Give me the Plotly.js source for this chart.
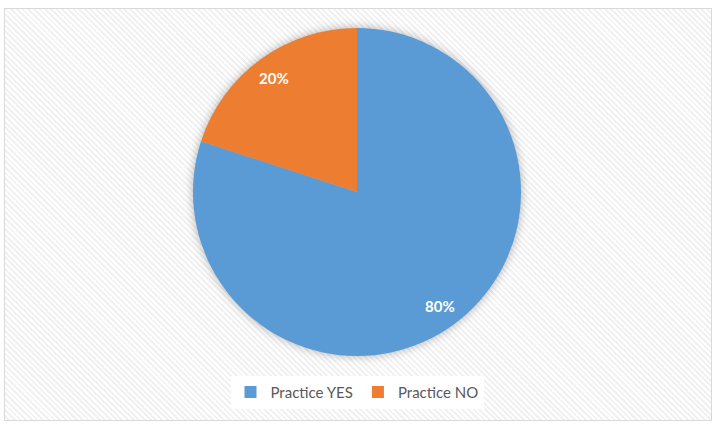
<!DOCTYPE html>
<html>
<head>
<meta charset="utf-8">
<script src="https://cdn.plot.ly/plotly-3.0.1.min.js"></script>
<style>
html,body{margin:0;padding:0;background:#fff;width:723px;height:427px;overflow:hidden;}
#frame{position:absolute;left:4px;top:8px;width:706px;height:411px;border:1px solid #d9d9d9;
background:repeating-linear-gradient(45deg,#ffffff 0px,#ffffff 2px,#f1f1f1 2px,#f1f1f1 4px);}
#chart{position:absolute;left:0;top:0;width:723px;height:427px;}
.pielayer .trace{filter:drop-shadow(0 0 5px rgba(0,0,0,0.3));}
</style>
</head>
<body>
<div id="frame"></div>
<div id="chart"></div>
<script>
var categories = ["Practice YES", "Practice NO"];
var values = [80, 20];
var colors = ["#5B9BD5", "#ED7D31"];

var W = 723, H = 427;
var margin = {l: 0, r: 9, t: 28, b: 71};
var plotW = W - margin.l - margin.r, plotH = H - margin.t - margin.b;
var radiusPx = Math.min(plotW, plotH) / 2;
var labelFrac = 0.86;

var total = values.reduce(function (a, b) { return a + b; }, 0);
var annotations = [];
var cum = 0;
for (var i = 0; i < values.length; i++) {
  var mid = (cum + values[i] / 2) / total * 2 * Math.PI; // clockwise from 12 o'clock
  cum += values[i];
  var dx = Math.sin(mid) * radiusPx * labelFrac;
  var dy = Math.cos(mid) * radiusPx * labelFrac;
  annotations.push({
    xref: "paper", yref: "paper",
    x: 0.5 + dx / plotW, y: 0.5 + dy / plotH,
    xanchor: "center", yanchor: "middle",
    showarrow: false,
    text: Math.round(values[i] / total * 100) + "%",
    font: {family: "Lato, 'Open Sans', sans-serif", size: 15, color: "#ffffff", weight: "bold"}
  });
}

var trace = {
  type: "pie",
  labels: categories,
  values: values,
  sort: false,
  direction: "clockwise",
  rotation: 0,
  marker: {colors: colors, line: {width: 0}},
  textinfo: "none",
  hoverinfo: "none"
};

var layout = {
  width: W,
  height: H,
  margin: {l: margin.l, r: margin.r, t: margin.t, b: margin.b, pad: 0},
  paper_bgcolor: "rgba(0,0,0,0)",
  plot_bgcolor: "rgba(0,0,0,0)",
  showlegend: true,
  annotations: annotations,
  legend: {
    orientation: "h",
    x: 0.5, xanchor: "center",
    y: -0.06, yanchor: "top",
    bgcolor: "#ffffff",
    font: {family: "Lato, 'Open Sans', sans-serif", size: 15, color: "#595959"},
    itemclick: false
  }
};

Plotly.newPlot("chart", [trace], layout, {displayModeBar: false, staticPlot: true});
</script>
</body>
</html>
